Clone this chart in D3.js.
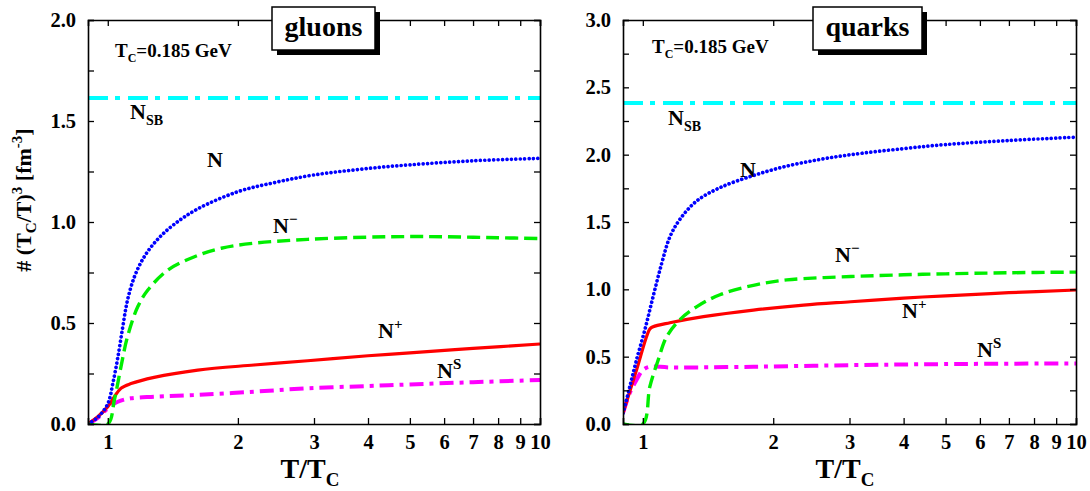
<!DOCTYPE html>
<html>
<head>
<meta charset="utf-8">
<script src="https://cdn.jsdelivr.net/npm/d3@7"></script>
<style>
  html, body { margin: 0; padding: 0; background: #fff; }
  svg text { font-family: "Liberation Serif", "Times New Roman", serif; font-weight: bold; fill: #000; }
</style>
</head>
<body>
<svg id="chart" width="1090" height="491"></svg>
<script>
// ---- data: particle densities scaled by (Tc/T)^3 versus T/Tc ----
const xTicks = [1, 2, 3, 4, 5, 6, 7, 8, 9, 10];
const gluonYTicks = [0, 0.5, 1.0, 1.5, 2.0];
const quarkYTicks = [0, 0.5, 1.0, 1.5, 2.0, 2.5, 3.0];

// gluons: [T/Tc, value]
const gluonN = [[0.9,0],[0.95,0.035],[1.0,0.10],[1.027,0.20],[1.055,0.33],[1.083,0.48],[1.11,0.61],[1.153,0.73],[1.216,0.83],[1.305,0.915],[1.427,0.99],[1.615,1.065],[2.0,1.15],[2.43,1.195],[3,1.233],[4,1.265],[5,1.283],[7,1.303],[10,1.315]];
const gluonNminus = [[0.9,0],[1.0,0],[1.036,0.12],[1.073,0.284],[1.11,0.43],[1.173,0.58],[1.238,0.663],[1.377,0.762],[1.587,0.828],[1.83,0.87],[2.18,0.895],[2.9,0.914],[4,0.925],[5,0.928],[6,0.927],[8,0.922],[10,0.918]];
const gluonNplus = [[0.9,0],[0.948,0.036],[1.0,0.086],[1.036,0.135],[1.073,0.177],[1.132,0.20],[1.28,0.231],[1.615,0.267],[2.18,0.292],[2.9,0.313],[4,0.338],[5,0.352],[7,0.374],[10,0.396]];
const gluonNs = [[0.9,0],[0.948,0.03],[1.0,0.078],[1.055,0.11],[1.13,0.127],[1.28,0.135],[1.615,0.144],[2.18,0.16],[2.9,0.177],[4,0.188],[5,0.196],[7,0.207],[10,0.218]];
const gluonNsb = [[0.9,1.614],[10,1.614]];

// quarks: [T/Tc, value]
const quarkN = [[0.9,0.08],[0.933,0.277],[0.967,0.475],[1.011,0.70],[1.056,0.945],[1.105,1.19],[1.155,1.39],[1.218,1.52],[1.33,1.655],[1.507,1.755],[1.8,1.845],[2.15,1.915],[2.57,1.965],[3.02,2.0],[4,2.045],[5,2.075],[7,2.105],[10,2.13]];
const quarkNminus = [[0.9,0],[1.0,0],[1.038,0.277],[1.085,0.475],[1.135,0.648],[1.218,0.775],[1.33,0.87],[1.507,0.96],[1.8,1.03],[2.15,1.07],[3.02,1.095],[4,1.108],[5,1.115],[7,1.123],[10,1.128]];
const quarkNplus = [[0.9,0.08],[0.967,0.40],[1.038,0.705],[1.056,0.722],[1.155,0.752],[1.38,0.797],[1.8,0.846],[2.35,0.883],[3.02,0.908],[4,0.935],[5,0.952],[7,0.975],[10,0.995]];
const quarkNs = [[0.9,0.08],[0.933,0.23],[0.967,0.327],[1.0,0.40],[1.038,0.425],[1.155,0.42],[1.8,0.425],[3.02,0.437],[5,0.445],[10,0.45]];
const quarkNsb = [[0.9,2.383],[10,2.383]];

// ---- line styles ----
const styles = {
  sb:    { color: "#00ffff", width: 4,   dash: "20,7,5,8", cap: "butt" },
  ns:    { color: "#ff00ff", width: 4,   dash: "14,6,4,6", cap: "butt" },
  plus:  { color: "#ff0000", width: 3.2, dash: null,       cap: "butt" },
  minus: { color: "#00ee00", width: 3.4, dash: "13,6",     cap: "butt" },
  n:     { color: "#0000ff", width: 3.7, dash: "0.01,4.4", cap: "round" }
};

const svg = d3.select("#chart");

function drawPanel(p) {
  const x = d3.scaleLog().domain([0.9, 10]).range([p.left, p.right]);
  const y = d3.scaleLinear().domain([0, p.ymax]).range([p.bottom, p.top]);
  const g = svg.append("g");

  const line = d3.line().x(d => x(d[0])).y(d => y(d[1])).curve(d3.curveCatmullRom.alpha(0.5));

  // curves (drawn under the frame)
  const series = [
    [p.sb, styles.sb], [p.ns, styles.ns], [p.plus, styles.plus],
    [p.minus, styles.minus], [p.n, styles.n]
  ];
  const clipId = "clip" + p.id;
  g.append("clipPath").attr("id", clipId).append("rect")
    .attr("x", p.left).attr("y", p.top - 3)
    .attr("width", p.right - p.left).attr("height", p.bottom - p.top + 3);
  const cg = g.append("g").attr("clip-path", `url(#${clipId})`);
  series.forEach(([data, s]) => {
    cg.append("path").datum(data).attr("d", line)
      .attr("fill", "none").attr("stroke", s.color)
      .attr("stroke-width", s.width)
      .attr("stroke-dasharray", s.dash)
      .attr("stroke-linecap", s.cap)
      .attr("stroke-linejoin", "round");
  });

  // axes with inward ticks
  const minorY = d3.range(0, p.ymax + 0.001, 0.25);
  const bottomAxis = d3.axisBottom(x).tickValues(xTicks).tickSize(-6).tickPadding(10).tickFormat(d3.format("d"));
  const topAxis = d3.axisTop(x).tickValues(xTicks).tickSize(-6).tickFormat("");
  const leftAxis = d3.axisLeft(y).tickValues(minorY).tickSize(-6).tickPadding(12)
    .tickFormat(d => p.yTicks.some(v => Math.abs(v - d) < 1e-6) ? d3.format(".1f")(d) : "");
  const rightAxis = d3.axisRight(y).tickValues(minorY).tickSize(-6).tickFormat("");

  const styleAxis = sel => {
    sel.selectAll("path.domain").attr("stroke", "#000").attr("stroke-width", 1.6);
    sel.selectAll(".tick line").attr("stroke", "#000").attr("stroke-width", 1.3);
    sel.selectAll(".tick text").style("font-size", "20.5px").style("font-family", "'Liberation Serif', serif").style("font-weight", "bold").attr("fill", "#000");
  };
  g.append("g").attr("transform", `translate(0,${p.bottom})`).call(bottomAxis).call(styleAxis);
  g.append("g").attr("transform", `translate(0,${p.top})`).call(topAxis).call(styleAxis);
  g.append("g").attr("transform", `translate(${p.left},0)`).call(leftAxis).call(styleAxis);
  g.append("g").attr("transform", `translate(${p.right},0)`).call(rightAxis).call(styleAxis);

  // x axis title
  const xt = g.append("text").attr("x", p.xTitleX).attr("y", 478)
    .attr("text-anchor", "middle").style("font-size", "28px");
  xt.append("tspan").text("T/T");
  xt.append("tspan").attr("dy", 8).style("font-size", "19px").text("C");

  // Tc annotation
  const tc = g.append("text").attr("x", p.tcX).attr("y", p.tcY).style("font-size", "19px");
  tc.append("tspan").text("T");
  tc.append("tspan").attr("dy", 5).style("font-size", "12px").text("C");
  tc.append("tspan").attr("dy", -5).text("=0.185 GeV");

  // title box with drop shadow
  const b = p.box;
  g.append("rect").attr("x", b.x + 5).attr("y", b.y + 5).attr("width", b.w).attr("height", b.h).attr("fill", "#000");
  g.append("rect").attr("x", b.x).attr("y", b.y).attr("width", b.w).attr("height", b.h)
    .attr("fill", "#fff").attr("stroke", "#000").attr("stroke-width", 1.5);
  g.append("text").attr("x", b.x + b.w / 2).attr("y", b.y + 29).attr("text-anchor", "middle")
    .style("font-size", "28px").text(b.label);

  // curve labels
  p.labels.forEach(l => {
    const t = g.append("text").attr("x", l.x).attr("y", l.y).style("font-size", "22px");
    t.append("tspan").text("N");
    if (l.sub) t.append("tspan").attr("dy", 6).style("font-size", "14px").text(l.sub);
    if (l.sup) t.append("tspan").attr("dy", -9).style("font-size", "15px").text(l.sup);
  });
}

drawPanel({
  id: "g", left: 88, right: 540, top: 20, bottom: 424, ymax: 2,
  yTicks: gluonYTicks,
  n: gluonN, minus: gluonNminus, plus: gluonNplus, ns: gluonNs, sb: gluonNsb,
  xTitleX: 310, tcX: 115, tcY: 57,
  box: { x: 272, y: 7, w: 103, h: 43, label: "gluons" },
  labels: [
    { x: 130, y: 119, sub: "SB" },
    { x: 207, y: 167 },
    { x: 273, y: 233, sup: "\u2212" },
    { x: 378, y: 338, sup: "+" },
    { x: 437, y: 378, sup: "S" }
  ]
});

drawPanel({
  id: "q", left: 623, right: 1076, top: 20, bottom: 424, ymax: 3,
  yTicks: quarkYTicks,
  n: quarkN, minus: quarkNminus, plus: quarkNplus, ns: quarkNs, sb: quarkNsb,
  xTitleX: 845, tcX: 652, tcY: 53,
  box: { x: 813, y: 7, w: 109, h: 43, label: "quarks" },
  labels: [
    { x: 668, y: 125, sub: "SB" },
    { x: 740, y: 177 },
    { x: 835, y: 262, sup: "\u2212" },
    { x: 902, y: 318, sup: "+" },
    { x: 977, y: 357, sup: "S" }
  ]
});

// shared y axis title
const yt = svg.append("text").attr("transform", "translate(31,200) rotate(-90)")
  .attr("text-anchor", "middle").style("font-size", "22px");
yt.append("tspan").text("# (T");
yt.append("tspan").attr("dy", 5).style("font-size", "15px").text("C");
yt.append("tspan").attr("dy", -5).text("/T)");
yt.append("tspan").attr("dy", -9).style("font-size", "15px").text("3");
yt.append("tspan").attr("dy", 9).text(" [fm");
yt.append("tspan").attr("dy", -9).style("font-size", "15px").text("-3");
yt.append("tspan").attr("dy", 9).text("]");
</script>
</body>
</html>
